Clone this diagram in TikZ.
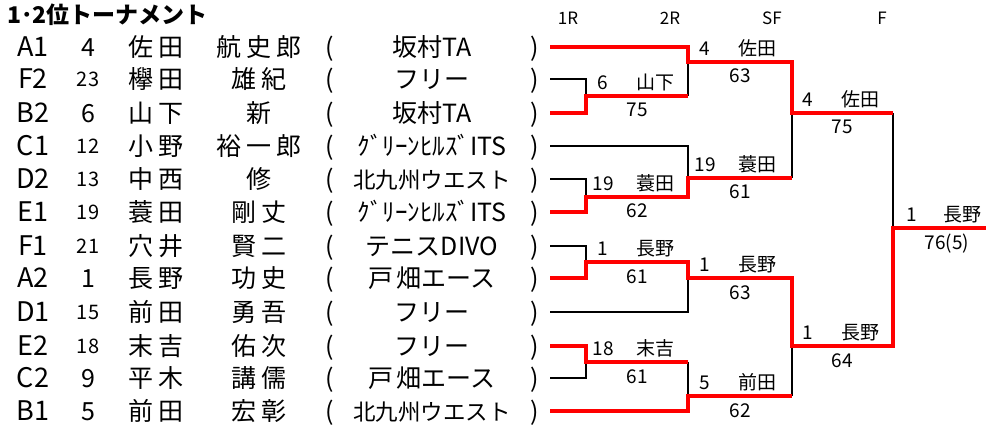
\documentclass[tikz,border=0pt]{standalone}
\usepackage{fontspec}
\setmainfont{Noto Sans CJK JP}
\definecolor{wred}{RGB}{255,0,0}
\newcommand\fsz[1]{\fontsize{#1}{#1}\selectfont}
\newcommand\gp{\kern5pt}
\tikzset{
  txt/.style={inner sep=0pt, outer sep=0pt, anchor=base},
  cell/.style={txt, font=\fsz{25}, yshift=-9.2pt},
  codecell/.style={txt, font=\fsz{27}, yshift=-9.9pt},
  small/.style={txt, font=\fsz{20}, yshift=-7.3pt},
  lbl/.style={txt, font=\fsz{19}, yshift=-7pt},
  hdr/.style={txt, font=\fsz{17}, yshift=-6.2pt},
  bk/.style={draw=black, line width=2.6pt, line join=miter},
  rd/.style={draw=wred, line width=4pt, line join=miter}
}
% idx, y, code, seed, seedstyle, last, first, club
\newcommand\plrow[8]{%
  \node[codecell] (code#1) at (33,#2) {#3};
  \node[#5] (seed#1) at (88,#2) {#4};
  \node[cell] (last#1) at (156,#2) {#6};
  \node[cell] (first#1) at (259,#2) {#7};
  \node[cell] (lp#1) at (330,#2) {(};
  \node[cell] (club#1) at (432,#2) {#8};
  \node[cell] (rp#1) at (535,#2) {)};
  \coordinate (p#1) at (550,#2);
}
% id, xnum, xname, xscore, liney, num, name, score
\newcommand\mlab[8]{%
  \node[lbl] (n#1) at (#2,{#5-13.5}) {#6};
  \node[lbl] (w#1) at (#3,{#5-13.5}) {#7};
  \node[lbl] (s#1) at (#4,{#5+14}) {#8};
}
\begin{document}
\begin{tikzpicture}[x=1pt,y=-1pt]
\useasboundingbox[fill=white] (0,0) rectangle (986,425);

\node[txt, anchor=base west, font=\fsz{23}\bfseries, yshift=-8.5pt] (title) at (7,15) {1･2位トーナメント};
\node[hdr] (h1) at (568,18) {1R};
\node[hdr] (h2) at (670,18) {2R};
\node[hdr] (h3) at (772,18) {SF};
\node[hdr] (h4) at (882,18) {F};

\plrow{1}{47}{A1}{4}{cell}{佐\gp 田}{航\gp 史\gp 郎}{坂村TA}
\plrow{2}{79}{F2}{23}{small}{欅\gp 田}{雄\gp 紀}{フリー}
\plrow{3}{113}{B2}{6}{cell}{山\gp 下}{新}{坂村TA}
\plrow{4}{146}{C1}{12}{small}{小\gp 野}{裕\gp 一\gp 郎}{ｸﾞﾘｰﾝﾋﾙｽﾞITS}
\plrow{5}{179}{D2}{13}{small}{中\gp 西}{修}{\fsz{22.5}北九州ウエスト}
\plrow{6}{212}{E1}{19}{small}{蓑\gp 田}{剛\gp 丈}{ｸﾞﾘｰﾝﾋﾙｽﾞITS}
\plrow{7}{246}{F1}{21}{small}{穴\gp 井}{賢\gp 二}{テニスDIVO}
\plrow{8}{278}{A2}{1}{cell}{長\gp 野}{功\gp 史}{戸\kern3pt 畑エース}
\plrow{9}{312}{D1}{15}{small}{前\gp 田}{勇\gp 吾}{フリー}
\plrow{10}{346}{E2}{18}{small}{末\gp 吉}{佑\gp 次}{フリー}
\plrow{11}{378}{C2}{9}{cell}{平\gp 木}{講\gp 儒}{戸\kern3pt 畑エース}
\plrow{12}{411}{B1}{5}{cell}{前\gp 田}{宏\gp 彰}{\fsz{22.5}北九州ウエスト}

% junctions
\coordinate (m1) at (586,96);
\coordinate (m2) at (688,62);
\coordinate (m3) at (792,113);
\coordinate (m4) at (586,197);
\coordinate (m5) at (688,178);
\coordinate (m6) at (586,262);
\coordinate (m7) at (688,278);
\coordinate (m8) at (586,362);
\coordinate (m9) at (688,396);
\coordinate (m10) at (792,346);
\coordinate (m11) at (893,228);
\coordinate (fin) at (986,228);

% black (losing) lines
\draw[bk] (p2) -| (m1);
\draw[bk] (m1 -| m2) -- (m2);
\draw[bk] (m3 -| m11) -- (m11);
\draw[bk] (p5) -| (m4);
\draw[bk] (p4) -| (m5);
\draw[bk] (m3) -- (m3 |- m5);
\draw[bk] (p7) -| (m6);
\draw[bk] (p9) -| (m7);
\draw[bk] (p11) -| (m8);
\draw[bk] (m8 -| m9) -- (m9);
\draw[bk] (m9 -| m10) -- (m10);

% red (winning) lines
\draw[rd] (p1) -| (m2) -| (m3) -- (m3 -| m11);
\draw[rd] (p3) -| (m1) -- (m1 -| m2);
\draw[rd] (p6) -| (m4) -- (m4 -| m5) -- (m5) -- (m5 -| m3);
\draw[rd] (p8) -| (m6) -- (m6 -| m7) -- (m7) -| (m10) -- (m10 -| m11) -- (m11) -- (fin);
\draw[rd] (p10) -| (m8) -- (m8 -| m9);
\draw[rd] (p12) -| (m9) -- (m9 -| m10);

% match labels
\mlab{a}{603}{655}{637}{96}{6}{山下}{75}
\mlab{b}{705}{757}{740}{62}{4}{佐田}{63}
\mlab{c}{808}{860}{842}{113}{4}{佐田}{75}
\mlab{d}{603}{655}{637}{197}{19}{蓑田}{62}
\mlab{e}{705}{757}{740}{178}{19}{蓑田}{61}
\mlab{f}{603}{655}{637}{262}{1}{長野}{61}
\mlab{g}{705}{757}{740}{278}{1}{長野}{63}
\mlab{h}{603}{655}{637}{362}{18}{末吉}{61}
\mlab{i}{705}{757}{740}{396}{5}{前田}{62}
\mlab{j}{808}{860}{842}{346}{1}{長野}{64}
\mlab{k}{912}{962}{947}{228}{1}{長野}{76(5)}
\end{tikzpicture}
\end{document}
